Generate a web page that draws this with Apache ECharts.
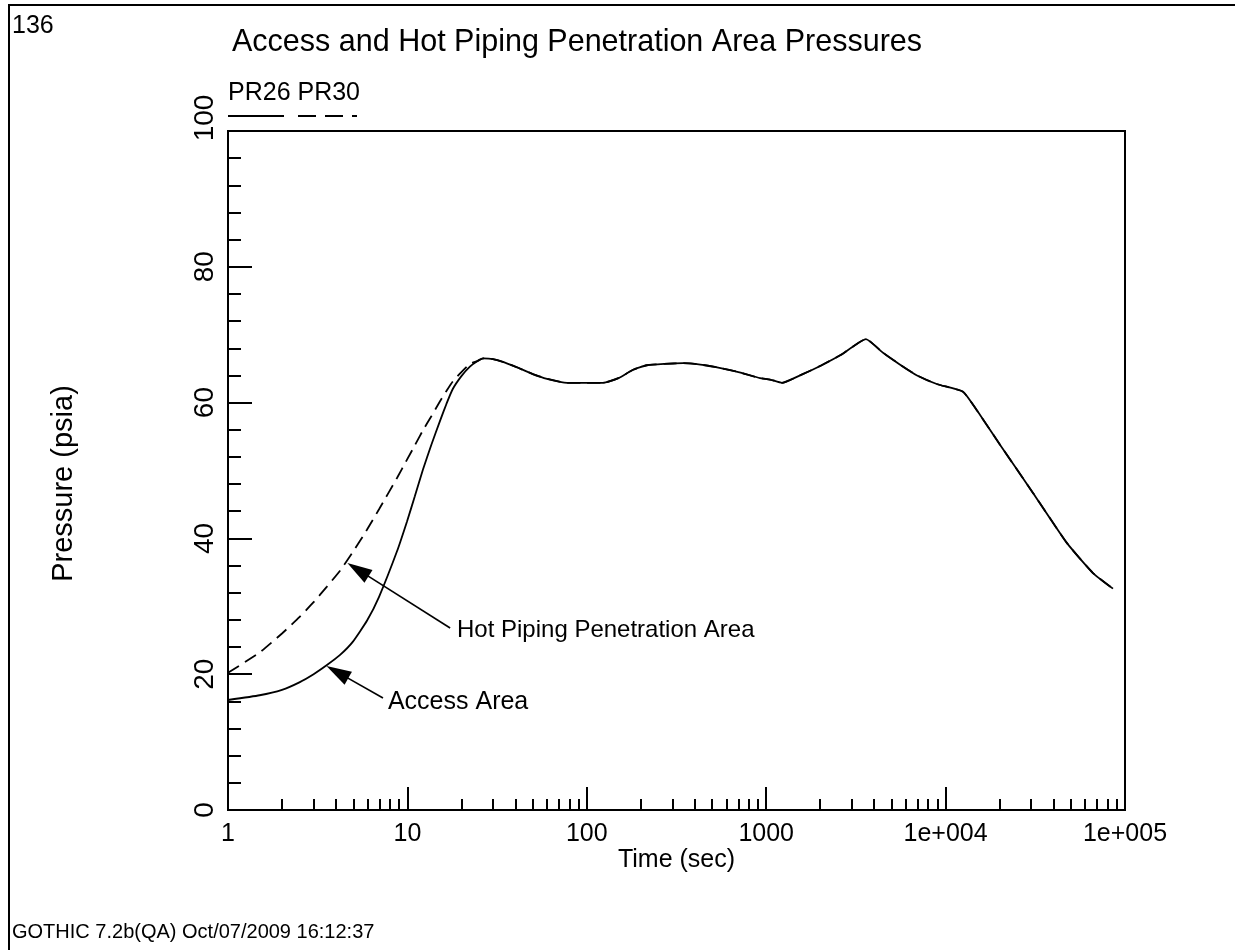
<!DOCTYPE html>
<html>
<head>
<meta charset="utf-8">
<script src="https://cdn.jsdelivr.net/npm/echarts@6/dist/echarts.min.js"></script>
</head>
<body style="margin: 0; background: #fff">
<div id="container" style="width: 1235px; height: 950px;"></div>
<script>
// time points (sec), shared by both curves
var times = [1, 1.5, 2, 2.5, 3, 3.56, 4.2, 4.97, 5.96, 6.95, 8.75, 9.95, 11, 12.2, 13.6, 15.2, 16.5, 17.9, 20, 22.3,
    24.5, 26.4, 30, 35, 40.8, 50, 60, 77.6, 100, 123, 150, 180, 216, 270, 344, 430, 532, 700, 923, 1050,
    1225, 1543, 2000, 2600, 3597, 4500, 5500, 6930, 9000, 12500, 15000, 20100, 30700, 47500, 66300, 85700];
// PR26 - Access Area (psia)
var pr26 = [16.2, 16.9, 17.7, 18.8, 20.0, 21.35, 22.8, 24.8, 27.9, 31.4, 38.1, 42.5, 46.2, 50.1, 53.8, 57.3, 59.8, 62.0, 63.9, 65.3,
    66.1, 66.5, 66.4, 65.9, 65.2, 64.2, 63.5, 62.9, 62.9, 62.9, 63.6, 64.8, 65.5, 65.7, 65.8, 65.6, 65.2, 64.5, 63.6, 63.4,
    62.9, 64.0, 65.4, 67.0, 69.35, 67.3, 65.7, 64.0, 62.7, 61.6, 58.8, 53.8, 46.7, 39.3, 34.9, 32.6];
// PR30 - Hot Piping Penetration Area (psia)
var pr30 = [20.2, 23.2, 26.0, 28.4, 30.6, 32.9, 35.2, 38.0, 41.3, 44.3, 48.9, 51.6, 53.7, 55.9, 58.0, 60.2, 61.7, 63.1, 64.5, 65.7,
    66.1, 66.5, 66.4, 65.9, 65.2, 64.2, 63.5, 62.9, 62.9, 62.9, 63.6, 64.8, 65.5, 65.7, 65.8, 65.6, 65.2, 64.5, 63.6, 63.4,
    62.9, 64.0, 65.4, 67.0, 69.35, 67.3, 65.7, 64.0, 62.7, 61.6, 58.8, 53.8, 46.7, 39.3, 34.9, 32.6];

var xLabels = ['1', '10', '100', '1000', '1e+004', '1e+005'];
var minorSteps = [2, 3, 4, 5, 6, 7, 8, 9];
var decades = [1, 10, 100, 1000, 10000];

// annotation arrows: [tail, head] in data coords
var hotArrow = [[17.3, 26.8], [5.30, 35.4]];
var accessArrow = [[7.31, 16.5], [4.07, 20.3]];
var hotLabelAt = [18.9, 26.5];
var accessLabelAt = [7.79, 15.9];

var FONT = '"Liberation Sans", Arial, sans-serif';

var minorTicks = [];
decades.forEach(function (d) {
    minorSteps.forEach(function (s) { minorTicks.push(d * s); });
});

function pairs(vals) {
    return times.map(function (t, i) { return [t, vals[i]]; });
}

var dom = document.getElementById('container');
var myChart = echarts.init(dom, null, { renderer: 'canvas' });

var tickStyle = { color: '#000', width: 2 };

var option = {
    animation: false,
    backgroundColor: '#fff',
    title: {
        text: 'Access and Hot Piping Penetration Area Pressures',
        left: 227,
        top: 22,
        textStyle: { fontFamily: FONT, fontSize: 30.5, fontWeight: 'normal', color: '#000' }
    },
    grid: {
        left: 228, top: 131, right: 110, bottom: 140,
        show: true, borderColor: '#000', borderWidth: 2
    },
    xAxis: [
        {
            type: 'log',
            logBase: 10,
            min: 1,
            max: 100000,
            position: 'bottom',
            name: 'Time (sec)',
            nameLocation: 'middle',
            nameGap: 38,
            nameMoveOverlap: false,
            nameTextStyle: { fontFamily: FONT, fontSize: 25, color: '#000' },
            axisLine: { lineStyle: tickStyle },
            axisTick: { inside: true, length: 23, lineStyle: tickStyle },
            axisLabel: {
                fontFamily: FONT, fontSize: 25, color: '#000', margin: 12,
                showMaxLabel: true, showMinLabel: true,
                formatter: function (v) {
                    return xLabels[Math.round(Math.log10(v))];
                }
            },
            splitLine: { show: false }
        },
        {
            // minor log ticks only
            type: 'log',
            logBase: 10,
            min: 1,
            max: 100000,
            position: 'bottom',
            axisLine: { show: false },
            axisLabel: { show: false },
            axisTick: { show: true, inside: true, length: 11, lineStyle: tickStyle, customValues: minorTicks },
            splitLine: { show: false }
        }
    ],
    yAxis: {
        type: 'value',
        min: 0,
        max: 100,
        interval: 20,
        name: 'Pressure (psia)',
        nameLocation: 'middle',
        nameGap: 150,
        nameTextStyle: { fontFamily: FONT, fontSize: 29, color: '#000', padding: [0, 26, 0, 0] },
        axisLine: { show: true, lineStyle: tickStyle },
        axisTick: { show: true, inside: true, length: 24, lineStyle: tickStyle },
        minorTick: { show: true, splitNumber: 5, length: 13, lineStyle: tickStyle },
        axisLabel: {
            rotate: 90, fontFamily: FONT, fontSize: 28, color: '#000', margin: 9,
            formatter: function (v) { return v === 100 ? '{top|100}' : String(v); },
            rich: { top: { fontFamily: FONT, fontSize: 28, color: '#000', padding: [0, 0, 0, 26] } }
        },
        splitLine: { show: false },
        minorSplitLine: { show: false }
    },
    series: [
        {
            name: 'PR26',
            type: 'line',
            data: pairs(pr26),
            showSymbol: false,
            smooth: 0.15,
            lineStyle: { color: '#000', width: 1.8 },
            markPoint: {
                silent: true,
                symbol: 'circle',
                symbolSize: 0,
                label: {
                    show: true, position: 'right', distance: 0, formatter: '{b}',
                    fontFamily: FONT, fontSize: 24, color: '#000'
                },
                data: [
                    { name: 'Hot Piping Penetration Area', coord: hotLabelAt },
                    { name: 'Access Area', coord: accessLabelAt, label: { fontSize: 25 } }
                ]
            }
        },
        {
            name: 'PR30',
            type: 'line',
            data: pairs(pr30),
            showSymbol: false,
            smooth: 0.15,
            lineStyle: { color: '#000', width: 1.8, type: [13, 7] },
            markLine: {
                silent: true,
                symbol: ['none', 'triangle'],
                symbolSize: 18,
                label: { show: false },
                lineStyle: { color: '#000', width: 1.6, type: 'solid' },
                itemStyle: { color: '#000' },
                data: [
                    [{ coord: hotArrow[0] }, { coord: hotArrow[1], symbolSize: [15, 25] }],
                    [{ coord: accessArrow[0] }, { coord: accessArrow[1], symbolSize: [15, 25] }]
                ]
            }
        }
    ],
    graphic: [
        // page frame
        { type: 'line', shape: { x1: 9, y1: 4, x2: 9, y2: 950 }, style: { stroke: '#000', lineWidth: 2 } },
        { type: 'line', shape: { x1: 8, y1: 5, x2: 1235, y2: 5 }, style: { stroke: '#000', lineWidth: 2 } },
        { type: 'text', left: 12, top: 14, style: { text: '136', font: '25px ' + FONT, fill: '#000' } },
        { type: 'text', left: 12, top: 922, style: { text: 'GOTHIC 7.2b(QA) Oct/07/2009 16:12:37', font: '20px ' + FONT, fill: '#000' } },
        // legend
        { type: 'text', left: 228, top: 81, style: { text: 'PR26 PR30', font: '25px ' + FONT, fill: '#000' } },
        { type: 'line', shape: { x1: 228, y1: 116, x2: 284, y2: 116 }, style: { stroke: '#000', lineWidth: 2 } },
        { type: 'line', shape: { x1: 298, y1: 116, x2: 357, y2: 116 }, style: { stroke: '#000', lineWidth: 2, lineDash: [18, 9] } }
    ]
};

myChart.setOption(option);
</script>
</body>
</html>
